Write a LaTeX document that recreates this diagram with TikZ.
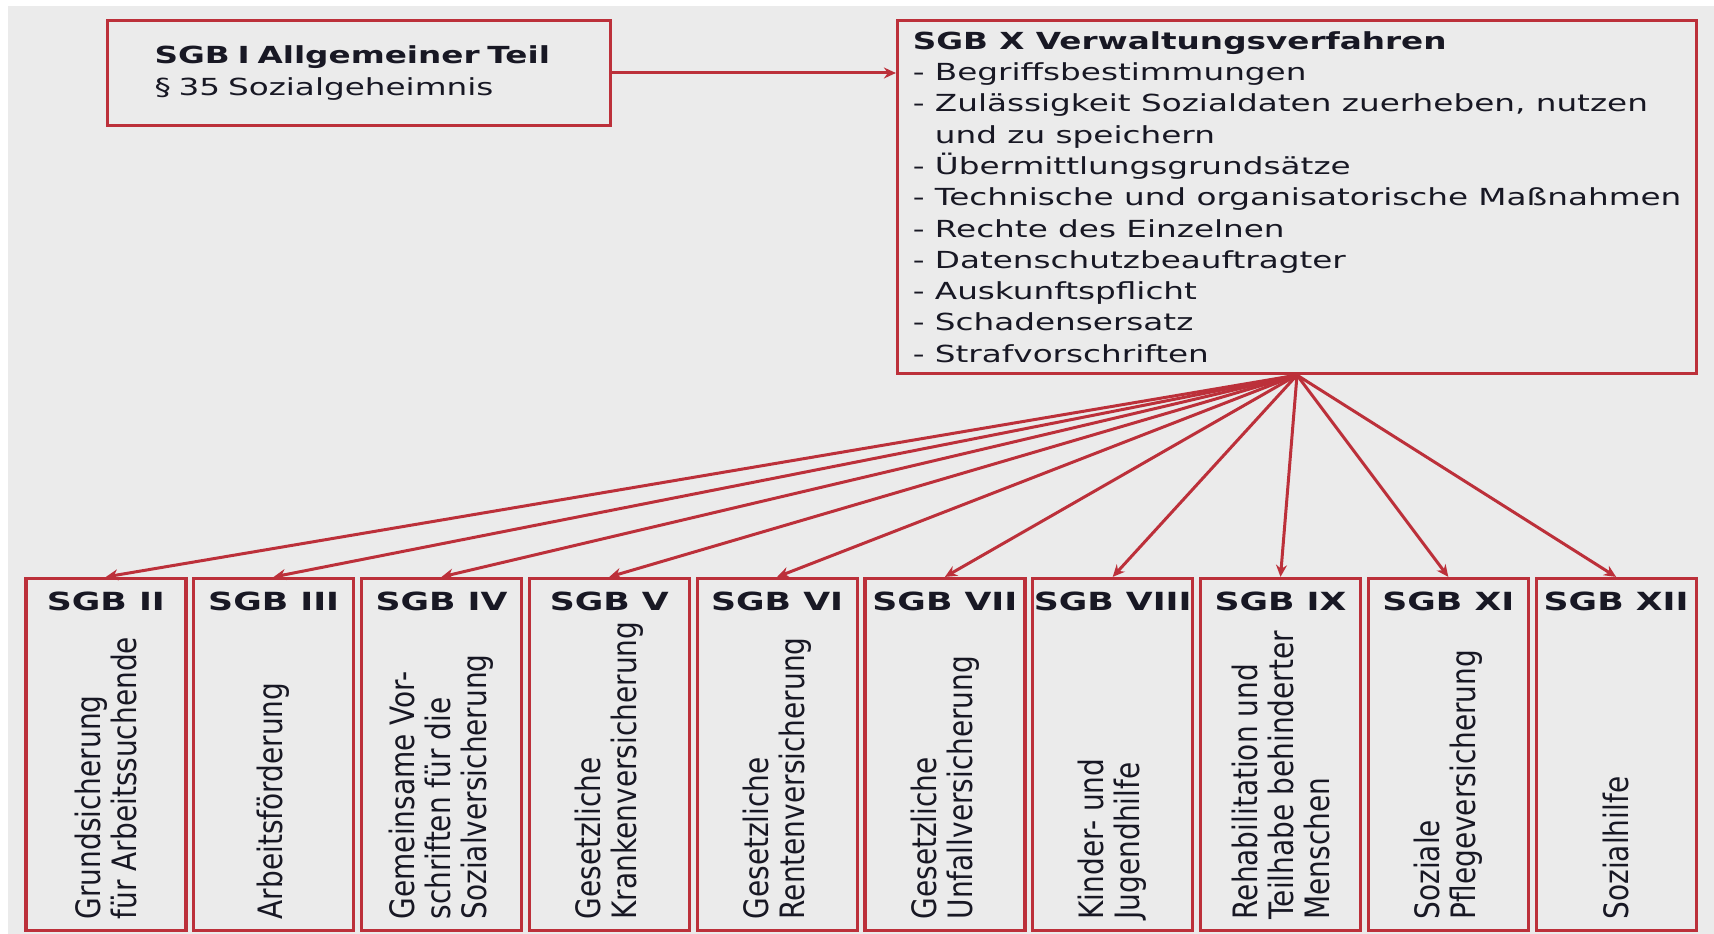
\documentclass[tikz,border=0pt]{standalone}
\usepackage{fontspec}
\setmainfont{DejaVu Sans}[FakeStretch=1.39]
\newfontfamily\rotfont{DejaVu Sans}
\usepackage{xcolor}
\usetikzlibrary{arrows.meta,positioning}
\definecolor{sgbred}{RGB}{188,48,58}
\definecolor{sgbgray}{RGB}{235,235,235}
\definecolor{sgbtext}{RGB}{24,24,36}

\begin{document}
\begin{tikzpicture}[
x = 1pt, y = -1pt,
topbox/.style={rectangle, align = left, 
draw = sgbred, line width = 3.2pt, text = sgbtext,
font = \fontsize{23.5}{31.3}\selectfont},
sgbbox/.style={rectangle, draw = sgbred, line width = 3.2pt, inner sep = 0pt,
minimum width = 160pt, minimum height = 352pt},
head/.style={anchor = base, text = sgbtext, inner sep = 0pt,
font = \bfseries\fontsize{25}{30}\selectfont},
rotext/.style={xscale = 1.2, rotate = 90, anchor = west, align = left, inner sep = 0pt,
text = sgbtext, font = \rotfont\fontsize{28}{30}\selectfont},
conarr/.style={-{Stealth[length = 12pt, width = 11pt]}, line width = 3pt, draw = sgbred},
node distance = 167.8pt]

\useasboundingbox (0,0) rectangle (1714,934);
\fill[sgbgray] (8,6) rectangle (1714,934);

\node[topbox, minimum width = 503pt, minimum height = 105pt, text width = 409pt, inner xsep = 47pt] (sgb1) at (359,73)
{\textbf{SGB I Allgemeiner Teil}\\§ 35 Sozialgeheimnis};

\node[topbox, minimum width = 799pt, minimum height = 353pt] (sgb10) at (1297,197)
{\textbf{SGB X Verwaltungsverfahren}\\
- Begriffsbestimmungen\\
- Zulässigkeit Sozialdaten zuerheben, nutzen\\
\phantom{- }und zu speichern\\
- Übermittlungsgrundsätze\\
- Technische und organisatorische Maßnahmen\\
- Rechte des Einzelnen\\
- Datenschutzbeauftragter\\
- Auskunftspflicht\\
- Schadensersatz\\
- Strafvorschriften};

\draw[conarr] (sgb1.east) -- (sgb1.east -| sgb10.west);

% untere Reihe
\node[sgbbox] (b2) at (105.9,754.5) {};
\node[sgbbox, right of = b2] (b3) {};
\node[sgbbox, right of = b3] (b4) {};
\node[sgbbox, right of = b4] (b5) {};
\node[sgbbox, right of = b5] (b6) {};
\node[sgbbox, right of = b6] (b7) {};
\node[sgbbox, right of = b7] (b8) {};
\node[sgbbox, right of = b8] (b9) {};
\node[sgbbox, right of = b9] (b11) {};
\node[sgbbox, right of = b11] (b12) {};

\node[head] (h2) at ([yshift=-34pt]b2.north) {SGB II};
\node[head] (h3) at ([yshift=-34pt]b3.north) {SGB III};
\node[head] (h4) at ([yshift=-34pt]b4.north) {SGB IV};
\node[head] (h5) at ([yshift=-34pt]b5.north) {SGB V};
\node[head] (h6) at ([yshift=-34pt]b6.north) {SGB VI};
\node[head] (h7) at ([yshift=-34pt]b7.north) {SGB VII};
\node[head] (h8) at ([yshift=-34pt]b8.north) {SGB VIII};
\node[head] (h9) at ([yshift=-34pt]b9.north) {SGB IX};
\node[head] (h11) at ([yshift=-34pt]b11.north) {SGB XI};
\node[head] (h12) at ([yshift=-34pt]b12.north) {SGB XII};

\node[rotext] (t2) at ([yshift=12.5pt]b2.south) {Grundsicherung\\für Arbeitssuchende};
\node[rotext] (t3) at ([yshift=12.5pt]b3.south) {Arbeitsförderung};
\node[rotext] (t4) at ([yshift=12.5pt]b4.south) {Gemeinsame Vor-\\schriften für die\\Sozialversicherung};
\node[rotext] (t5) at ([yshift=12.5pt]b5.south) {Gesetzliche\\Krankenversicherung};
\node[rotext] (t6) at ([yshift=12.5pt]b6.south) {Gesetzliche\\Rentenversicherung};
\node[rotext] (t7) at ([yshift=12.5pt]b7.south) {Gesetzliche\\Unfallversicherung};
\node[rotext] (t8) at ([yshift=12.5pt]b8.south) {Kinder- und\\Jugendhilfe};
\node[rotext] (t9) at ([yshift=12.5pt]b9.south) {Rehabilitation und\\Teilhabe behinderter\\Menschen};
\node[rotext] (t11) at ([yshift=12.5pt]b11.south) {Soziale\\Pflegeversicherung};
\node[rotext] (t12) at ([yshift=12.5pt]b12.south) {Sozialhilfe};

\draw[conarr] (sgb10.south) -- (b2.north);
\draw[conarr] (sgb10.south) -- (b3.north);
\draw[conarr] (sgb10.south) -- (b4.north);
\draw[conarr] (sgb10.south) -- (b5.north);
\draw[conarr] (sgb10.south) -- (b6.north);
\draw[conarr] (sgb10.south) -- (b7.north);
\draw[conarr] (sgb10.south) -- (b8.north);
\draw[conarr] (sgb10.south) -- (b9.north);
\draw[conarr] (sgb10.south) -- (b11.north);
\draw[conarr] (sgb10.south) -- (b12.north);
\end{tikzpicture}
\end{document}
